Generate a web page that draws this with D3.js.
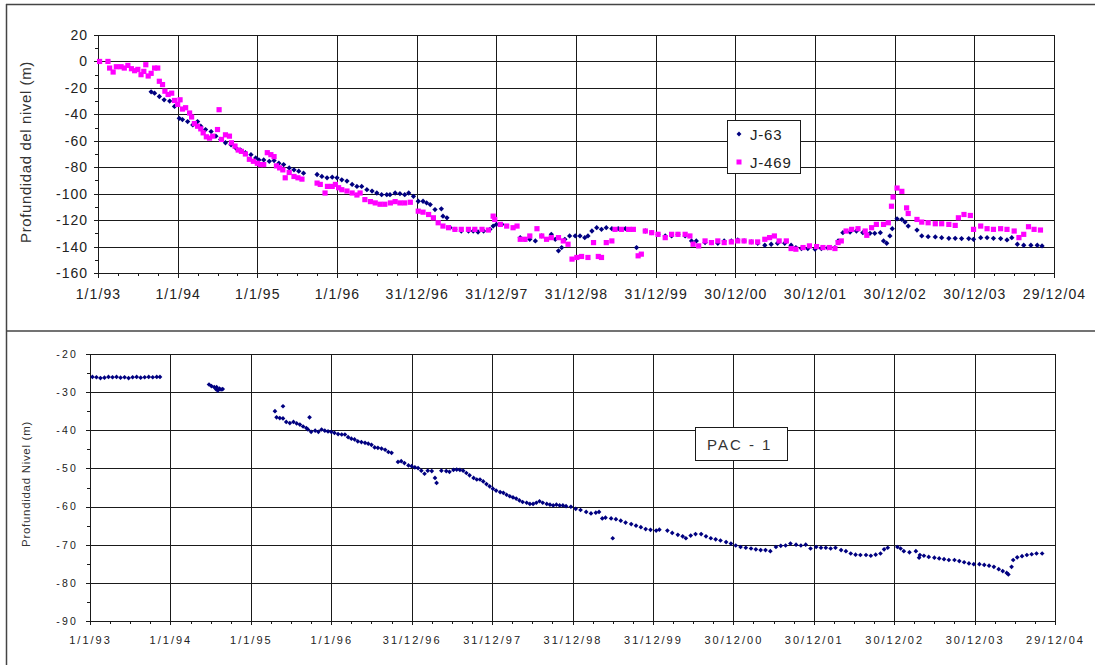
<!DOCTYPE html>
<html>
<head>
<meta charset="utf-8">
<script src="https://cdn.jsdelivr.net/npm/d3@7"></script>
<style>
html,body{margin:0;padding:0;background:#fff;}
svg{display:block;}
text{font-family:"Liberation Sans",Arial,sans-serif;}
</style>
</head>
<body>
<svg id="chart" width="1095" height="665"></svg>
<script>
// ---------- DATA (t = years since 1/1/93, value = depth in m) ----------
const xTickLabels = ["1/1/93","1/1/94","1/1/95","1/1/96","31/12/96","31/12/97","31/12/98","31/12/99","30/12/00","30/12/01","30/12/02","30/12/03","29/12/04"];
const yTicksTop = [20,0,-20,-40,-60,-80,-100,-120,-140,-160];
const yTicksBottom = [-20,-30,-40,-50,-60,-70,-80,-90];
const seriesNames = ["J-63","J-469"];
const wellName = "PAC - 1";

const j63 = [
[0.667,-23],[0.71,-24],[0.77,-26.5],[0.83,-29],[0.9,-30],[0.96,-34],[1.02,-43],[1.06,-44],[1.125,-45.5],[1.19,-48],
[1.25,-45.5],[1.29,-49],[1.35,-51.5],[1.42,-53],[1.48,-56.5],[1.54,-59],[1.6,-61.5],[1.67,-63],[1.73,-65.5],[1.79,-67],
[1.85,-69],[1.92,-70.5],[1.98,-73],[2.02,-74.5],[2.08,-74.5],[2.15,-75.5],[2.21,-75],[2.27,-77],[2.33,-78],[2.4,-80.5],
[2.46,-82],[2.52,-83],[2.58,-84.5],[2.75,-85.5],[2.81,-87],[2.875,-88],[2.94,-87.5],[3.0,-88],[3.06,-89.5],[3.125,-90.5],
[3.19,-93],[3.25,-94.5],[3.31,-94.5],[3.375,-97],[3.44,-98],[3.5,-99.5],[3.56,-100.75],[3.625,-100.75],[3.665,-100.75],[3.73,-99.5],
[3.79,-100],[3.85,-100.75],[3.9,-99.5],[3.96,-102],[4.02,-105.75],[4.08,-105.75],[4.125,-107],[4.17,-108.25],[4.23,-112],[4.31,-111.5],
[4.33,-117],[4.38,-118.25],[4.42,-125.75],[4.48,-127],[4.56,-128.25],[4.65,-128.25],[4.71,-128.25],[4.77,-129],[4.84,-128.25],[4.92,-127],
[4.96,-124.5],[5.0,-123.25],[5.07,-123.25],[5.3,-133.25],[5.36,-134.5],[5.42,-134.5],[5.49,-135.75],[5.57,-132],[5.69,-130.75],[5.74,-134.5],
[5.78,-143.25],[5.82,-140.75],[5.86,-134.5],[5.92,-132],[5.99,-132],[6.05,-132],[6.11,-133.25],[6.15,-132],[6.2,-128.25],[6.26,-125.75],
[6.32,-127],[6.38,-125.75],[6.45,-126.5],[6.53,-126.5],[6.62,-126.5],[6.7,-127],[6.76,-140.75],[6.87,-128.25],[6.95,-129.5],[7.03,-130.75],
[7.12,-132],[7.2,-132],[7.28,-130.75],[7.37,-132],[7.45,-135.75],[7.51,-135.75],[7.62,-137],[7.7,-137],[7.78,-137.5],[7.86,-135.75],
[7.95,-135.75],[8.03,-135],[8.11,-135.75],[8.2,-136.5],[8.28,-137.5],[8.37,-139],[8.45,-138.25],[8.53,-137.5],[8.62,-137.5],[8.7,-139],
[8.76,-140.75],[8.83,-141.5],[8.91,-141.5],[9.0,-142],[9.08,-141.5],[9.16,-141],[9.25,-140.75],[9.29,-135.75],[9.35,-129.5],[9.44,-129],
[9.52,-128.25],[9.6,-129.5],[9.69,-130],[9.75,-130],[9.82,-129.5],[9.86,-135.75],[9.9,-137.5],[9.94,-132],[9.97,-126.5],[10.03,-119],
[10.09,-119.5],[10.13,-121.5],[10.17,-124.5],[10.28,-127.5],[10.34,-132],[10.42,-132.5],[10.51,-132.75],[10.59,-133.25],[10.68,-133.75],[10.76,-133.75],
[10.84,-134],[10.93,-134],[10.99,-134.5],[11.08,-133.25],[11.16,-133.25],[11.24,-133.75],[11.33,-134],[11.41,-135],[11.47,-133.25],[11.54,-138.25],
[11.62,-139],[11.71,-139],[11.79,-139],[11.85,-139.5]
];

const j469 = [
[0.02,0],[0.125,0],[0.146,-5],[0.19,-8],[0.23,-4],[0.29,-4],[0.33,-5],[0.375,-3],[0.42,-5.5],[0.46,-7],
[0.5,-6],[0.54,-10],[0.575,-7.5],[0.6,-2.5],[0.63,-11],[0.667,-9],[0.71,-5],[0.75,-5],[0.77,-15],[0.81,-17.5],
[0.84,-22.5],[0.88,-25],[0.925,-24],[0.96,-29.5],[1.0,-32.5],[1.03,-29],[1.06,-36],[1.1,-35],[1.15,-39],[1.175,-42],
[1.21,-47],[1.25,-49],[1.29,-51],[1.32,-54],[1.36,-57],[1.4,-58],[1.44,-56.5],[1.5,-51.5],[1.52,-36.5],[1.55,-59],
[1.6,-55.5],[1.65,-56.5],[1.675,-61.5],[1.72,-64],[1.76,-67],[1.8,-68],[1.85,-70],[1.9,-74],[1.95,-75.5],[2.0,-77],
[2.04,-78],[2.08,-78],[2.125,-69],[2.17,-70.5],[2.21,-72],[2.24,-79],[2.28,-80.5],[2.32,-82],[2.35,-88],[2.4,-84],
[2.46,-87],[2.51,-88],[2.56,-89],[2.75,-92],[2.79,-93],[2.85,-99.5],[2.88,-94.5],[2.94,-94.5],[2.98,-93],[3.02,-95.5],
[3.06,-97],[3.125,-98],[3.19,-99.5],[3.25,-101],[3.29,-99.5],[3.35,-104.5],[3.42,-106],[3.48,-107],[3.54,-108],[3.6,-108],
[3.67,-107],[3.73,-106],[3.79,-107],[3.85,-107],[3.92,-106.5],[4.02,-113.25],[4.08,-114],[4.15,-115.75],[4.21,-118.25],[4.27,-122],
[4.33,-124.5],[4.4,-125.75],[4.48,-127],[4.56,-127],[4.65,-127],[4.73,-127],[4.82,-127],[4.9,-127.5],[4.96,-117],[4.98,-119.5],
[5.05,-123.25],[5.13,-124.5],[5.21,-125.75],[5.26,-124.5],[5.3,-134.5],[5.36,-134.5],[5.42,-132],[5.51,-126.5],[5.57,-132],[5.63,-134.5],
[5.69,-133.25],[5.78,-133.25],[5.84,-135.75],[5.9,-138.25],[5.95,-149.5],[6.01,-148.25],[6.07,-147.5],[6.15,-148.25],[6.22,-137],[6.28,-147.5],
[6.32,-148.25],[6.38,-137],[6.45,-135.75],[6.49,-127],[6.57,-127],[6.66,-127],[6.72,-127],[6.78,-147],[6.82,-145.75],[6.87,-128.25],
[6.95,-129.5],[7.03,-130.75],[7.12,-133.25],[7.2,-130.75],[7.28,-130.75],[7.37,-130.75],[7.43,-132],[7.47,-138.25],[7.54,-139.5],[7.62,-135.75],
[7.7,-137],[7.78,-135.75],[7.86,-137],[7.95,-136.5],[8.03,-135.75],[8.11,-135.75],[8.2,-136.5],[8.28,-136.5],[8.37,-134.5],[8.43,-133.25],
[8.49,-132],[8.55,-135.75],[8.64,-135.75],[8.7,-141.5],[8.76,-142],[8.85,-140.75],[8.93,-139.5],[9.02,-140],[9.1,-140.75],[9.18,-140.75],
[9.25,-141.5],[9.29,-137],[9.33,-135.75],[9.39,-128.25],[9.46,-127],[9.54,-126.5],[9.63,-128.25],[9.65,-131.5],[9.71,-125.75],[9.77,-123.25],
[9.86,-123.25],[9.92,-122],[9.96,-109.5],[9.98,-102.5],[10.03,-95.75],[10.09,-98.25],[10.15,-110.75],[10.17,-115],[10.28,-119.5],[10.34,-121.5],
[10.42,-122],[10.51,-122.75],[10.59,-122.75],[10.68,-123.25],[10.76,-124],[10.8,-118.25],[10.87,-115.75],[10.95,-116.5],[10.99,-127],[11.08,-124.5],
[11.16,-126.5],[11.24,-127],[11.33,-126.5],[11.41,-127],[11.5,-128.25],[11.56,-133.25],[11.62,-130.75],[11.68,-125],[11.75,-127],[11.83,-127.5]
];

const pac1 = [
[0.03,-26.0],[0.08,-26.1],[0.13,-26.3],[0.18,-26.2],[0.23,-26.0],[0.28,-26.1],[0.33,-26.0],[0.38,-26.2],[0.43,-26.1],[0.48,-26.3],
[0.53,-26.1],[0.58,-26.0],[0.63,-26.2],[0.68,-26.1],[0.73,-26.0],[0.78,-26.1],[0.83,-26.0],[0.87,-26.0],
[1.48,-28.0],[1.51,-28.4],[1.545,-28.7],[1.57,-29.3],[1.575,-28.7],[1.59,-29.6],[1.61,-29.1],[1.63,-29.3],[1.65,-29.2],
[2.3,-35],[2.4,-33.7],[2.32,-36.6],[2.36,-36.8],[2.4,-36.9],[2.44,-37.8],[2.485,-38.1],[2.53,-37.8],[2.57,-38.2],[2.61,-38.5],
[2.65,-39],[2.69,-39.4],[2.73,-36.6],[2.71,-39.8],[2.75,-40.4],[2.8,-40.1],[2.84,-40.4],[2.88,-39.8],[2.92,-40.1],[2.96,-40.3],
[3.0,-40.4],[3.04,-40.7],[3.085,-41],[3.13,-41.1],[3.17,-41.1],[3.21,-41.8],[3.25,-42.2],[3.29,-42.4],[3.33,-42.9],[3.375,-43.1],
[3.42,-43.3],[3.46,-43.5],[3.5,-43.8],[3.54,-44.5],[3.58,-44.6],[3.625,-44.8],[3.67,-45.1],[3.71,-45.7],[3.75,-45.9],[3.83,-48.3],
[3.87,-48.1],[3.91,-48.6],[3.96,-49.2],[4.0,-49.4],[4.04,-49.7],[4.08,-49.9],[4.12,-50.6],[4.16,-51.4],[4.2,-50.6],[4.25,-50.7],
[4.29,-52.5],[4.31,-53.8],[4.37,-50.6],[4.43,-50.7],[4.47,-50.9],[4.52,-50.4],[4.56,-50.3],[4.6,-50.4],[4.64,-50.6],[4.68,-51.2],
[4.72,-51.8],[4.77,-52.5],[4.81,-52.9],[4.85,-52.9],[4.89,-53.4],[4.93,-54.1],[4.97,-54.7],[5.01,-55.3],[5.05,-55.8],[5.1,-56.2],
[5.14,-56.4],[5.18,-56.9],[5.22,-57.3],[5.26,-57.6],[5.3,-57.9],[5.34,-58.4],[5.38,-58.8],[5.43,-59],[5.47,-59.3],[5.51,-59.3],
[5.55,-59],[5.59,-58.6],[5.63,-59],[5.68,-59.3],[5.72,-59.5],[5.76,-59.7],[5.8,-59.5],[5.84,-59.7],[5.88,-59.7],[5.92,-59.9],
[5.98,-60.05],[6.04,-60.6],[6.1,-60.9],[6.17,-61.4],[6.23,-61.8],[6.29,-61.6],[6.33,-61.4],[6.37,-63.1],[6.41,-62.9],[6.48,-63.1],
[6.5,-68.3],[6.54,-63.3],[6.6,-63.7],[6.66,-64.2],[6.73,-64.6],[6.79,-65],[6.85,-65.4],[6.91,-65.9],[6.97,-66.1],[7.04,-66.3],
[7.08,-66.05],[7.18,-66.3],[7.24,-66.9],[7.31,-67.4],[7.37,-67.8],[7.41,-68.3],[7.47,-67.6],[7.53,-67.2],[7.6,-67.2],[7.66,-67.8],
[7.72,-68.3],[7.78,-68.6],[7.84,-68.9],[7.91,-69.3],[7.97,-69.7],[8.03,-70.2],[8.09,-70.6],[8.155,-70.8],[8.22,-71],[8.28,-71.2],
[8.34,-71.4],[8.4,-71.4],[8.46,-71.7],[8.53,-70.6],[8.59,-70.3],[8.65,-70.2],[8.71,-69.7],[8.78,-70],[8.84,-70.2],[8.9,-70],
[8.96,-71],[9.03,-70.6],[9.09,-70.8],[9.15,-70.8],[9.21,-71],[9.27,-70.8],[9.34,-71.4],[9.4,-71.7],[9.46,-72.3],[9.52,-72.6],
[9.58,-72.7],[9.65,-72.7],[9.71,-72.9],[9.77,-72.6],[9.83,-72.3],[9.875,-71.2],[9.92,-70.8],[10.04,-70.6],[10.08,-71],[10.12,-71.7],
[10.19,-72],[10.27,-71.7],[10.31,-73.4],[10.32,-72.7],[10.37,-72.9],[10.43,-73.2],[10.5,-73.4],[10.56,-73.6],[10.62,-73.8],[10.68,-74],
[10.75,-74],[10.81,-74.3],[10.87,-74.6],[10.93,-74.9],[10.99,-75.1],[11.06,-75.1],[11.12,-75.3],[11.18,-75.5],[11.24,-75.8],[11.3,-76.4],
[11.35,-76.9],[11.4,-77.4],[11.42,-77.8],[11.46,-75.8],[11.48,-74],[11.53,-73.3],[11.59,-73],[11.65,-72.7],[11.71,-72.5],[11.77,-72.3],
[11.84,-72.3]
];

// ---------- DRAWING ----------
const svg = d3.select("#chart");
const navy = "#000080", magenta = "#FF00FF", ink = "#1a1a1a";

svg.append("line").attr("x1",6).attr("x2",1095).attr("y1",4.5).attr("y2",4.5).attr("stroke","#444").attr("stroke-width",1.5);
svg.append("line").attr("x1",6.5).attr("x2",6.5).attr("y1",4).attr("y2",665).attr("stroke","#444").attr("stroke-width",1.5);
svg.append("line").attr("x1",6).attr("x2",1095).attr("y1",331).attr("y2",331).attr("stroke","#444").attr("stroke-width",1.5);

function drawPanel(cfg){
  const g = svg.append("g");
  const x = d3.scaleLinear().domain([0,12]).range([cfg.x0,cfg.x1]);
  const y = d3.scaleLinear().domain([cfg.yMin,cfg.yMax]).range([cfg.y1,cfg.y0]);
  const W = cfg.x1-cfg.x0, H = cfg.y1-cfg.y0;

  g.append("g").attr("transform",`translate(0,${cfg.y1})`)
    .call(d3.axisBottom(x).tickValues(d3.range(0,13)).tickSize(-H).tickFormat("").tickSizeOuter(0))
    .call(s=>{s.select(".domain").remove(); s.selectAll("line").attr("stroke",ink).attr("stroke-width",1).attr("shape-rendering","crispEdges");});
  g.append("g").attr("transform",`translate(${cfg.x0},0)`)
    .call(d3.axisLeft(y).tickValues(cfg.yTicks).tickSize(-W).tickFormat("").tickSizeOuter(0))
    .call(s=>{s.select(".domain").remove(); s.selectAll("line").attr("stroke",ink).attr("stroke-width",1).attr("shape-rendering","crispEdges");});

  g.append("g").attr("transform",`translate(0,${cfg.y1})`)
    .call(d3.axisBottom(x).tickValues(d3.range(0,12.001,0.25)).tickSize(cfg.minorX).tickFormat("").tickSizeOuter(0))
    .call(s=>{s.select(".domain").remove(); s.selectAll("line").attr("stroke",ink).attr("shape-rendering","crispEdges");});
  g.append("g").attr("transform",`translate(${cfg.x0},0)`)
    .call(d3.axisLeft(y).tickValues(d3.range(cfg.yMin,cfg.yMax+0.001,cfg.minorStep)).tickSize(3).tickFormat("").tickSizeOuter(0))
    .call(s=>{s.select(".domain").remove(); s.selectAll("line").attr("stroke",ink).attr("shape-rendering","crispEdges");});

  const xa = g.append("g").attr("transform",`translate(0,${cfg.y1})`)
    .call(d3.axisBottom(x).tickValues(d3.range(0,13)).tickFormat(i=>xTickLabels[i]).tickSize(cfg.majorX).tickPadding(cfg.xPad).tickSizeOuter(0));
  xa.select(".domain").attr("stroke",ink).attr("shape-rendering","crispEdges");
  xa.selectAll("line").attr("stroke",ink).attr("shape-rendering","crispEdges");
  xa.selectAll("text").attr("fill","#222").style("font-size",cfg.fs+"px").style("letter-spacing",cfg.ls+"px");

  const ya = g.append("g").attr("transform",`translate(${cfg.x0},0)`)
    .call(d3.axisLeft(y).tickValues(cfg.yTicks).tickFormat(d=>String(d)).tickSize(4).tickPadding(cfg.yPad).tickSizeOuter(0));
  ya.select(".domain").attr("stroke",ink).attr("shape-rendering","crispEdges");
  ya.selectAll("line").attr("stroke",ink).attr("shape-rendering","crispEdges");
  ya.selectAll("text").attr("fill","#222").style("font-size",cfg.yfs+"px").style("letter-spacing",cfg.yls+"px");

  g.append("text").attr("transform",`translate(${cfg.titleX},${cfg.titleY}) rotate(-90)`)
    .attr("text-anchor","middle").attr("fill","#333").style("font-size",cfg.titleFs+"px")
    .style("letter-spacing",cfg.titleLs+"px").text(cfg.title);

  return {g,x,y};
}

// Top panel
const topP = drawPanel({x0:98,x1:1054,y0:35,y1:273,yMin:-160,yMax:20,yTicks:yTicksTop,minorStep:10,
  minorX:3,majorX:5,xPad:11,fs:14,ls:1.1,yPad:6,yfs:14,yls:1,
  title:"Profundidad del nivel (m)",titleX:31,titleY:152,titleFs:15,titleLs:0.6});

const diamond = d3.symbol().type(d3.symbolSquare);
topP.g.append("g").selectAll("path").data(j63).join("path")
  .attr("d",diamond.size(14)())
  .attr("transform",d=>`translate(${topP.x(d[0])},${topP.y(d[1])}) rotate(45)`)
  .attr("fill",navy);
topP.g.append("g").selectAll("rect").data(j469).join("rect")
  .attr("x",d=>topP.x(d[0])-2.6).attr("y",d=>topP.y(d[1])-2.6)
  .attr("width",5.2).attr("height",5.2).attr("fill",magenta);

const lg = topP.g.append("g");
lg.append("rect").attr("x",727.5).attr("y",120.5).attr("width",73).attr("height",53).attr("fill","#fff").attr("stroke",ink);
lg.append("path").attr("d",diamond.size(12)()).attr("transform","translate(739,134) rotate(45)").attr("fill",navy);
lg.append("rect").attr("x",736.5).attr("y",159.5).attr("width",5).attr("height",5).attr("fill",magenta);
lg.append("text").attr("x",750).attr("y",139.5).attr("fill","#222").style("font-size","15px").style("letter-spacing","0.8px").text(seriesNames[0]);
lg.append("text").attr("x",750).attr("y",167.5).attr("fill","#222").style("font-size","15px").style("letter-spacing","0.8px").text(seriesNames[1]);

// Bottom panel
const botP = drawPanel({x0:90,x1:1055,y0:354,y1:621,yMin:-90,yMax:-20,yTicks:yTicksBottom,minorStep:5,
  minorX:3,majorX:4,xPad:11,fs:11,ls:2,yPad:8,yfs:10.5,yls:2.2,
  title:"Profundidad Nivel (m)",titleX:30,titleY:484,titleFs:11.5,titleLs:0.7});

botP.g.append("g").selectAll("path").data(pac1).join("path")
  .attr("d",diamond.size(11)())
  .attr("transform",d=>`translate(${botP.x(d[0])},${botP.y(d[1])}) rotate(45)`)
  .attr("fill",navy);

const pb = botP.g.append("g");
pb.append("rect").attr("x",695.5).attr("y",427.5).attr("width",92).attr("height",33).attr("fill","#fff").attr("stroke",ink);
pb.append("text").attr("x",707).attr("y",449.5).attr("fill","#333").style("font-size","15px").style("letter-spacing","2px").text(wellName);
</script>
</body>
</html>
